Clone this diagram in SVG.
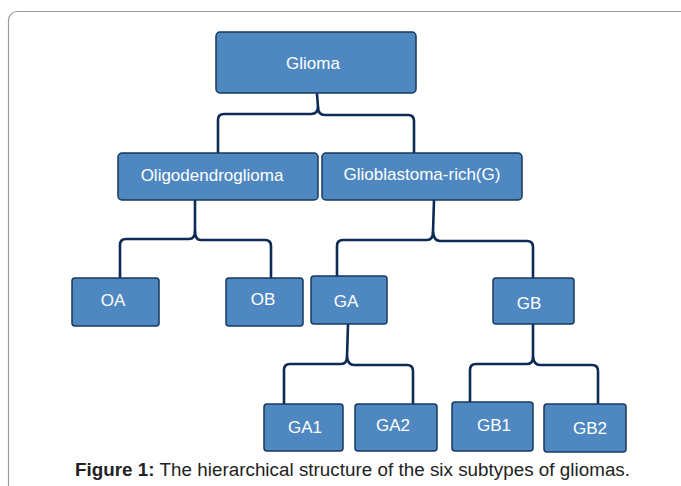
<svg xmlns="http://www.w3.org/2000/svg" width="681" height="486" viewBox="0 0 681 486">
<style>
.box{fill:#4F88C1;stroke:#17375E;stroke-width:1.5}
.lbl{fill:#FFFFFF;font-family:"Liberation Sans",Arial,sans-serif;font-size:17px;text-anchor:middle}
.con{fill:none;stroke:#0E2A57;stroke-width:2.6;stroke-linejoin:round;stroke-linecap:round}
.cap{font-family:"Liberation Sans",Arial,sans-serif;font-size:18.8px;fill:#222}
</style>
<rect x="0" y="0" width="681" height="486" fill="#FFFFFF"/>
<rect x="8.5" y="11.5" width="700" height="520" rx="9" fill="#FFFFFF" stroke="#9A9A9A" stroke-width="1.2"/>
<g id="connectors">
<path class="con" d="M317,94 L318,107 Q318,114 311,114 L224,114 Q218,114 218,120 L218,153"/>
<path class="con" d="M318,107 Q318,115 325,115 L408,115 Q414,115 414,121 L414,153"/>
<path class="con" d="M195,200 L195,231 Q195,239 189,239 L126,239 Q120,239 120,245 L120,277"/>
<path class="con" d="M195,231 Q195,240 201,240 L265,240 Q271,240 271,246 L271,277"/>
<path class="con" d="M434,200 L433,232 Q433,240 427,240 L343,240 Q337,240 337,246 L337,276"/>
<path class="con" d="M433,232 Q434,241 440,241 L527,241 Q533,241 533,247 L533,278"/>
<path class="con" d="M348,324 L347,357 Q347,364 341,364 L290,364 Q284,364 284,370 L284,403"/>
<path class="con" d="M347,357 Q348,365 354,365 L407,365 Q413,365 413,371 L413,403"/>
<path class="con" d="M533,324 L533,357 Q533,364 527,364 L476,364 Q470,364 470,370 L470,401"/>
<path class="con" d="M533,357 Q534,365 540,365 L592,365 Q598,365 598,371 L598,403"/>
</g>
<g id="glioma"><rect class="box" x="216" y="32" width="200" height="61" rx="4"/><text class="lbl" x="313" y="69">Glioma</text></g>
<g id="oligodendroglioma"><rect class="box" x="118" y="153" width="200" height="47" rx="4"/><text class="lbl" x="212" y="181">Oligodendroglioma</text></g>
<g id="glioblastoma"><rect class="box" x="322" y="153" width="200" height="47" rx="4"/><text class="lbl" x="422" y="180">Glioblastoma-rich(G)</text></g>
<g id="oa"><rect class="box" x="72" y="278" width="87" height="48" rx="3"/><text class="lbl" x="113" y="306">OA</text></g>
<g id="ob"><rect class="box" x="226" y="278" width="77" height="48" rx="3"/><text class="lbl" x="263" y="305">OB</text></g>
<g id="ga"><rect class="box" x="311" y="276" width="76" height="48" rx="3"/><text class="lbl" x="346" y="307">GA</text></g>
<g id="gb"><rect class="box" x="493" y="278" width="81" height="46" rx="3"/><text class="lbl" x="529" y="309">GB</text></g>
<g id="ga1"><rect class="box" x="264" y="404" width="79" height="47" rx="3"/><text class="lbl" x="305" y="433">GA1</text></g>
<g id="ga2"><rect class="box" x="355" y="404" width="82" height="47" rx="3"/><text class="lbl" x="393" y="431">GA2</text></g>
<g id="gb1"><rect class="box" x="452" y="402" width="81" height="49" rx="3"/><text class="lbl" x="494" y="431">GB1</text></g>
<g id="gb2"><rect class="box" x="544" y="404" width="82" height="48" rx="3"/><text class="lbl" x="590" y="434">GB2</text></g>
<text class="cap" x="75" y="476" textLength="555" lengthAdjust="spacing"><tspan font-weight="bold">Figure 1:</tspan> The hierarchical structure of the six subtypes of gliomas.</text>
</svg>
